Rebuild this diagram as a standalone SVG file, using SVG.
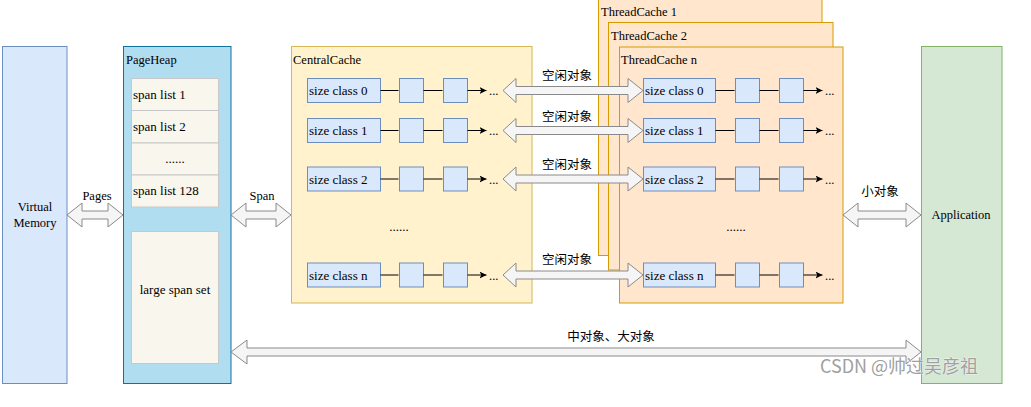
<svg xmlns="http://www.w3.org/2000/svg" width="1031" height="407" viewBox="0 0 1031 407">
<defs>
<style>
.t{font-family:'Liberation Serif','DejaVu Serif',serif;font-size:12.5px;fill:#000}
.s{font-family:'Liberation Serif','DejaVu Serif',serif;font-size:13px;fill:#000}
.c{font-family:'Noto Sans CJK SC',sans-serif;font-size:12.5px;fill:#000}
.m{text-anchor:middle}
.blue{fill:#dae8fc;stroke:#6c8ebf;stroke-width:1}
.item{fill:#f9f7ed;stroke:#c8c8c8;stroke-width:1}
.tc{fill:#ffe6cc;stroke:#d79b00;stroke-width:1}
.fa{fill:#f5f5f5;stroke:#8a8a8a;stroke-width:1}
.ln{stroke:#000;stroke-width:1;fill:none}
</style>
<marker id="ah" markerUnits="userSpaceOnUse" markerWidth="8" markerHeight="8" refX="7" refY="3.5" orient="auto">
<path d="M0,0 L7,3.5 L0,7 L1.8,3.5 Z" fill="#000"/>
</marker>
</defs>
<rect width="1031" height="407" fill="#ffffff"/>

<g id="virtual-memory">
<rect x="2.5" y="46.5" width="64.5" height="337" class="blue"/>
<text class="t m" x="35" y="211" font-family="Liberation Serif, serif">Virtual</text>
<text class="t m" x="35" y="227" font-family="Liberation Serif, serif">Memory</text>
</g>

<g id="pageheap">
<rect x="123.5" y="46.5" width="107.5" height="337" fill="#b1ddf0" stroke="#10739e"/>
<text class="t" x="126" y="64">PageHeap</text>
<rect x="131.5" y="78.5" width="87" height="32" class="item"/>
<text class="s" x="133" y="99">span list 1</text>
<rect x="131.5" y="110.5" width="87" height="32.5" class="item"/>
<text class="s" x="133" y="131">span list 2</text>
<rect x="131.5" y="143" width="87" height="32" class="item"/>
<text class="s m" x="175" y="163">......</text>
<rect x="131.5" y="175" width="87" height="32" class="item"/>
<text class="s" x="133" y="195">span list 128</text>
<rect x="131.5" y="231.5" width="87" height="132" class="item"/>
<text class="s m" x="175" y="294">large span set</text>
</g>

<g id="centralcache">
<rect x="291.5" y="46.5" width="240.5" height="256.5" fill="#fff2cc" stroke="#d6b656"/>
<text class="t" x="293" y="64">CentralCache</text>
<rect x="307.5" y="78.5" width="73" height="24" class="blue"/>
<text class="s" x="309" y="95">size class 0</text>
<rect x="399.5" y="78.5" width="24" height="24" class="blue"/>
<rect x="443.5" y="78.5" width="24" height="24" class="blue"/>
<text class="t" x="489" y="95">...</text>
<rect x="307.5" y="118.5" width="73" height="24" class="blue"/>
<text class="s" x="309" y="135">size class 1</text>
<rect x="399.5" y="118.5" width="24" height="24" class="blue"/>
<rect x="443.5" y="118.5" width="24" height="24" class="blue"/>
<text class="t" x="489" y="135">...</text>
<rect x="307.5" y="167" width="73" height="24" class="blue"/>
<text class="s" x="309" y="183.5">size class 2</text>
<rect x="399.5" y="167" width="24" height="24" class="blue"/>
<rect x="443.5" y="167" width="24" height="24" class="blue"/>
<text class="t" x="489" y="183.5">...</text>
<text class="s m" x="399" y="231">......</text>
<rect x="307.5" y="263" width="73" height="24" class="blue"/>
<text class="s" x="309" y="279.5">size class n</text>
<rect x="399.5" y="263" width="24" height="24" class="blue"/>
<rect x="443.5" y="263" width="24" height="24" class="blue"/>
<text class="t" x="489" y="279.5">...</text>
</g>

<g id="threadcache-1">
<rect x="598.5" y="-1" width="223.5" height="256.5" class="tc"/>
<text class="t" x="601" y="16">ThreadCache 1</text>
</g>
<g id="threadcache-2">
<rect x="608.5" y="22.5" width="224.5" height="247.5" class="tc"/>
<text class="t" x="611" y="40">ThreadCache 2</text>
</g>
<g id="threadcache-n">
<rect x="619.5" y="47" width="223.5" height="256" class="tc"/>
<text class="t" x="621" y="64">ThreadCache n</text>
<rect x="643.5" y="78.5" width="72" height="24" class="blue"/>
<text class="s" x="645" y="95">size class 0</text>
<rect x="735.5" y="78.5" width="24" height="24" class="blue"/>
<rect x="779.5" y="78.5" width="24" height="24" class="blue"/>
<text class="t" x="825" y="95">...</text>
<rect x="643.5" y="118.5" width="72" height="24" class="blue"/>
<text class="s" x="645" y="135">size class 1</text>
<rect x="735.5" y="118.5" width="24" height="24" class="blue"/>
<rect x="779.5" y="118.5" width="24" height="24" class="blue"/>
<text class="t" x="825" y="135">...</text>
<rect x="643.5" y="167" width="72" height="24" class="blue"/>
<text class="s" x="645" y="183.5">size class 2</text>
<rect x="735.5" y="167" width="24" height="24" class="blue"/>
<rect x="779.5" y="167" width="24" height="24" class="blue"/>
<text class="t" x="825" y="183.5">...</text>
<text class="s m" x="736" y="231">......</text>
<rect x="643.5" y="263" width="72" height="24" class="blue"/>
<text class="s" x="645" y="279.5">size class n</text>
<rect x="735.5" y="263" width="24" height="24" class="blue"/>
<rect x="779.5" y="263" width="24" height="24" class="blue"/>
<text class="t" x="825" y="279.5">...</text>
</g>

<g id="application">
<rect x="921.5" y="46.5" width="80.5" height="337" fill="#d5e8d4" stroke="#82b366"/>
<text class="t m" x="961" y="219">Application</text>
</g>

<g id="connectors">
<path class="ln" marker-end="url(#ah)" d="M380.5,90.5H398.5M423.5,90.5H442.5M467.5,90.5H486.5"/>
<path class="ln" marker-end="url(#ah)" d="M380.5,130.5H398.5M423.5,130.5H442.5M467.5,130.5H486.5"/>
<path class="ln" marker-end="url(#ah)" d="M380.5,179H398.5M423.5,179H442.5M467.5,179H486.5"/>
<path class="ln" marker-end="url(#ah)" d="M380.5,275H398.5M423.5,275H442.5M467.5,275H486.5"/>
<path class="ln" marker-end="url(#ah)" d="M715.5,90.5H734.5M759.5,90.5H778.5M803.5,90.5H822.5"/>
<path class="ln" marker-end="url(#ah)" d="M715.5,130.5H734.5M759.5,130.5H778.5M803.5,130.5H822.5"/>
<path class="ln" marker-end="url(#ah)" d="M715.5,179H734.5M759.5,179H778.5M803.5,179H822.5"/>
<path class="ln" marker-end="url(#ah)" d="M715.5,275H734.5M759.5,275H778.5M803.5,275H822.5"/>

<path class="fa" d="M67,215 L82,203 L82,211 L108,211 L108,203 L123,215 L108,227 L108,219 L82,219 L82,227 Z"/>
<text class="t m" x="97" y="200">Pages</text>
<path class="fa" d="M231,215 L246,203 L246,211 L276,211 L276,203 L291,215 L276,227 L276,219 L246,219 L246,227 Z"/>
<text class="t m" x="262" y="200">Span</text>

<path class="fa" d="M503,90.5 L516,78.5 L516,86.5 L628,86.5 L628,78.5 L643,90.5 L628,102.5 L628,94.5 L516,94.5 L516,102.5 Z"/>
<text class="c m" x="567" y="80">空闲对象</text>
<path class="fa" d="M503,130.5 L516,118.5 L516,126.5 L628,126.5 L628,118.5 L643,130.5 L628,142.5 L628,134.5 L516,134.5 L516,142.5 Z"/>
<text class="c m" x="567" y="121">空闲对象</text>
<path class="fa" d="M503,179 L516,167 L516,175 L628,175 L628,167 L643,179 L628,191 L628,183 L516,183 L516,191 Z"/>
<text class="c m" x="567" y="169">空闲对象</text>
<path class="fa" d="M503,275 L516,263 L516,271 L628,271 L628,263 L643,275 L628,287 L628,279 L516,279 L516,287 Z"/>
<text class="c m" x="567" y="264">空闲对象</text>

<path class="fa" d="M843,215 L858,203 L858,211 L906,211 L906,203 L921,215 L906,227 L906,219 L858,219 L858,227 Z"/>
<text class="c m" x="880" y="196">小对象</text>

<path class="fa" d="M231,352 L247,340 L247,348 L906,348 L906,340 L921,352 L906,364 L906,356 L247,356 L247,364 Z"/>
<text class="c m" x="611" y="341">中对象、大对象</text>
</g>

<text x="899" y="373" text-anchor="middle" font-family="'Noto Sans CJK SC', sans-serif" font-size="18" fill="#a0a0a0" stroke="#ffffff" stroke-width="0.6" paint-order="stroke">CSDN @帅过吴彦祖</text>
</svg>
